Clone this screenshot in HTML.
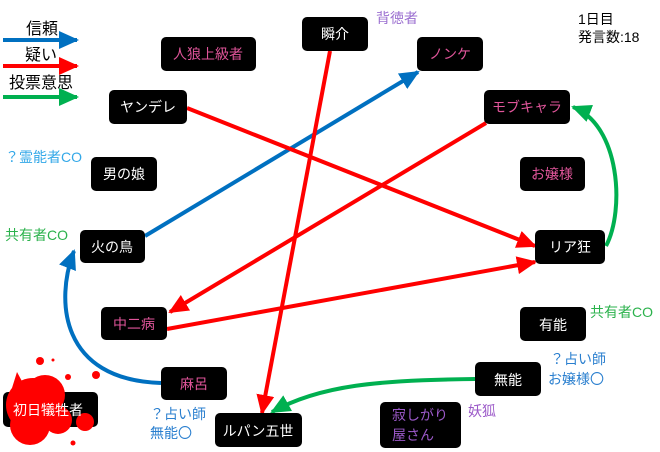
<!DOCTYPE html>
<html><head><meta charset="utf-8"><style>
html,body{margin:0;padding:0;background:#fff;}
svg{display:block;font-family:"Liberation Sans","Noto Sans CJK JP",sans-serif;}
.w{fill:#fff;font-size:14px}
.p{fill:#e0559a;font-size:14px}
</style></head><body>
<svg width="660" height="452" viewBox="0 0 660 452" xmlns="http://www.w3.org/2000/svg">
<defs>
<marker id="ab" markerUnits="userSpaceOnUse" markerWidth="22" markerHeight="18" refX="18" refY="9" orient="auto"><path d="M0,0 L20,9 L0,18 z" fill="#0070c0"/></marker>
<marker id="ar" markerUnits="userSpaceOnUse" markerWidth="22" markerHeight="18" refX="18" refY="9" orient="auto"><path d="M0,0 L20,9 L0,18 z" fill="#ff0000"/></marker>
<marker id="ag" markerUnits="userSpaceOnUse" markerWidth="22" markerHeight="18" refX="18" refY="9" orient="auto"><path d="M0,0 L20,9 L0,18 z" fill="#00b050"/></marker>
</defs>
<!-- legend -->
<text x="26" y="34" font-size="16" fill="#000">信頼</text>
<line x1="3" y1="40" x2="77" y2="40" stroke="#0070c0" stroke-width="4" marker-end="url(#ab)"/>
<text x="25" y="60" font-size="16" fill="#000">疑い</text>
<line x1="3" y1="66" x2="77" y2="66" stroke="#ff0000" stroke-width="4" marker-end="url(#ar)"/>
<text x="9" y="88" font-size="16" fill="#000">投票意思</text>
<line x1="3" y1="97" x2="77" y2="97" stroke="#00b050" stroke-width="4" marker-end="url(#ag)"/>

<!-- connectors -->
<g fill="none" stroke-width="4">
<line x1="145" y1="236" x2="418" y2="72" stroke="#0070c0" marker-end="url(#ab)"/>
<path d="M161,383 C60,380 55,300 74,251" stroke="#0070c0" marker-end="url(#ab)"/>
<line x1="330" y1="51" x2="262" y2="413" stroke="#ff0000" marker-end="url(#ar)"/>
<line x1="187" y1="108" x2="535" y2="246" stroke="#ff0000" marker-end="url(#ar)"/>
<line x1="486" y1="123" x2="170" y2="312" stroke="#ff0000" marker-end="url(#ar)"/>
<line x1="167" y1="329" x2="535" y2="262" stroke="#ff0000" marker-end="url(#ar)"/>
<path d="M606,246 C625,210 620,125 573,107" stroke="#00b050" marker-end="url(#ag)"/>
<path d="M475,379 C380,380 320,385 272,412" stroke="#00b050" marker-end="url(#ag)"/>
</g>

<!-- nodes -->
<g fill="#000">
<rect x="302" y="17" width="66" height="34" rx="5"/>
<rect x="161" y="37" width="95" height="34" rx="5"/>
<rect x="109" y="90" width="78" height="34" rx="5"/>
<rect x="91" y="157" width="66" height="34" rx="5"/>
<rect x="417" y="37" width="66" height="34" rx="5"/>
<rect x="484" y="90" width="86" height="34" rx="5"/>
<rect x="520" y="157" width="65" height="34" rx="5"/>
<rect x="80" y="230" width="65" height="33" rx="5"/>
<rect x="101" y="307" width="66" height="33" rx="5"/>
<rect x="161" y="367" width="66" height="33" rx="5"/>
<rect x="3" y="392" width="95" height="35" rx="5"/>
<rect x="215" y="413" width="87" height="34" rx="5"/>
<rect x="535" y="230" width="70" height="34" rx="5"/>
<rect x="520" y="307" width="66" height="34" rx="5"/>
<rect x="475" y="362" width="66" height="34" rx="5"/>
<rect x="380" y="402" width="81" height="46" rx="5"/>
</g>
<!-- splat -->
<g fill="#ff0000">
<circle cx="33" cy="405" r="27"/>
<circle cx="45" cy="395" r="20"/>
<circle cx="30" cy="425" r="20"/>
<circle cx="58" cy="420" r="14"/>
<circle cx="85" cy="422" r="9"/>
<circle cx="40" cy="361" r="4"/>
<circle cx="68" cy="377" r="3"/>
<circle cx="96" cy="375" r="4"/>
<circle cx="53" cy="360" r="1.5"/>
<circle cx="73" cy="443" r="2.5"/>
<path d="M17,372 L24,385 L12,388 z"/>
</g>

<g text-anchor="middle">
<text x="335" y="39" class="w">瞬介</text>
<text x="208" y="59" class="p">人狼上級者</text>
<text x="148" y="112" class="w">ヤンデレ</text>
<text x="124" y="179" class="w">男の娘</text>
<text x="450" y="59" class="p">ノンケ</text>
<text x="527" y="112" class="p">モブキャラ</text>
<text x="552" y="179" class="p">お嬢様</text>
<text x="112" y="252" class="w">火の鳥</text>
<text x="134" y="329" class="p">中二病</text>
<text x="194" y="389" class="p">麻呂</text>
<text x="48" y="415" class="w">初日犠牲者</text>
<text x="258" y="436" class="w">ルパン五世</text>
<text x="570" y="252" class="w">リア狂</text>
<text x="553" y="330" class="w">有能</text>
<text x="508" y="385" class="w">無能</text>
</g>
<text x="392" y="420" font-size="14" fill="#9b59c8">寂しがり</text>
<text x="392" y="440" font-size="14" fill="#9b59c8">屋さん</text>

<!-- annotations -->
<text x="376" y="23" font-size="14" fill="#9b6fd0">背徳者</text>
<text x="578" y="24" font-size="14" fill="#000">1日目</text>
<text x="578" y="42" font-size="14" fill="#000">発言数:18</text>
<text x="5" y="162" font-size="14" fill="#33a8e8">？霊能者CO</text>
<text x="5" y="240" font-size="14" fill="#2bb24c">共有者CO</text>
<text x="590" y="317" font-size="14" fill="#2bb24c">共有者CO</text>
<text x="550" y="364" font-size="14" fill="#2a7fcf">？占い師</text>
<text x="548" y="384" font-size="14" fill="#2a7fcf">お嬢様〇</text>
<text x="150" y="419" font-size="14" fill="#2a7fcf">？占い師</text>
<text x="150" y="438" font-size="14" fill="#2a7fcf">無能〇</text>
<text x="468" y="416" font-size="14" fill="#9b59c8">妖狐</text>
</svg>
</body></html>
